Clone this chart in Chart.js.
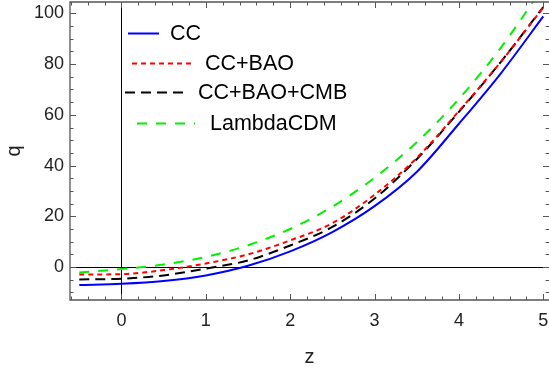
<!DOCTYPE html>
<html>
<head>
<meta charset="utf-8">
<script src="https://cdn.jsdelivr.net/npm/chart.js@4.4.1/dist/chart.umd.min.js"></script>
<style>
  html, body { margin: 0; padding: 0; background: #fff; }
</style>
</head>
<body>
<canvas id="qz" width="549" height="369"></canvas>
<script>
// redshift samples and q(z) for each fit
const zValues = [-0.5, 0, 0.5, 1, 1.5, 2, 2.5, 3, 3.5, 4, 4.5, 5];
const qCC = [-7.1, -6.6, -5.5, -3.3, 0.5, 6.2, 13.8, 24.0, 37.5, 56.5, 76.5, 98.8];
const qCCBAO = [-2.95, -2.8, -1.2, 1.4, 5.0, 10.5, 17.3, 28.5, 43.0, 61.5, 81.0, 102.3];
const qCCBAOCMB = [-4.9, -4.6, -3.3, -0.6, 2.6, 8.5, 15.8, 27.0, 42.5, 61.2, 81.0, 102.5];
const qLCDM = [-2.2, -0.8, 1.0, 4.0, 8.6, 15.0, 23.8, 35.2, 49.2, 66.3, 86.6, 110.5];

const seriesNames = ['CC', 'CC+BAO', 'CC+BAO+CMB', 'LambdaCDM'];
const xTicks = [0, 1, 2, 3, 4, 5];
const yTicks = [0, 20, 40, 60, 80, 100];

const FONT = 'Liberation Sans, Arial, sans-serif';

const toPoints = (ys) => zValues.map((z, i) => ({ x: z, y: ys[i] }));

const styles = [
  { color: '#0000ff', dash: [] },
  { color: '#ff0000', dash: [5, 4] },
  { color: '#000000', dash: [10, 6] },
  { color: '#00f000', dash: [10, 9] }
];

const datasets = [qCC, qCCBAO, qCCBAOCMB, qLCDM].map((ys, i) => ({
  label: seriesNames[i],
  data: toPoints(ys),
  borderColor: styles[i].color,
  borderDash: styles[i].dash,
  borderWidth: 2,
  pointRadius: 0,
  fill: false,
  cubicInterpolationMode: 'monotone'
}));

// frame with inward ticks; the right edge sits on the canvas border so only its ticks show
const framePlugin = {
  id: 'frame',
  afterDatasetsDraw(chart) {
    const { ctx, chartArea: a, scales: { x, y } } = chart;
    ctx.save();
    ctx.strokeStyle = '#555';
    ctx.lineWidth = 1.3;
    ctx.beginPath();
    ctx.moveTo(a.right, a.top);
    ctx.lineTo(a.left, a.top);
    ctx.lineTo(a.left, a.bottom);
    ctx.lineTo(a.right, a.bottom);
    ctx.stroke();
    ctx.lineWidth = 1;
    ctx.beginPath();
    for (let i = -3; i <= 25; i++) {
      const px = Math.round(x.getPixelForValue(i / 5)) + 0.5;
      if (px < a.left || px > a.right) continue;
      const len = i % 5 === 0 ? 6 : 3.5;
      ctx.moveTo(px, a.bottom); ctx.lineTo(px, a.bottom - len);
      ctx.moveTo(px, a.top); ctx.lineTo(px, a.top + len);
    }
    for (let i = -2; i <= 20; i++) {
      const py = Math.round(y.getPixelForValue(i * 5)) + 0.5;
      if (py < a.top || py > a.bottom) continue;
      const len = i % 4 === 0 ? 6 : 3.5;
      ctx.moveTo(a.left, py); ctx.lineTo(a.left + len, py);
      ctx.moveTo(a.right, py); ctx.lineTo(a.right - len, py);
    }
    ctx.stroke();
    ctx.restore();
  }
};

// legend rows inside the plot
const legendRows = [
  { x1: 128, x2: 159, tx: 170, y: 33 },
  { x1: 132, x2: 192, tx: 205, y: 63 },
  { x1: 125, x2: 188, tx: 198, y: 92 },
  { x1: 137, x2: 195, tx: 210, y: 123 }
];

const legendPlugin = {
  id: 'insetLegend',
  afterDraw(chart) {
    const ctx = chart.ctx;
    ctx.save();
    chart.data.datasets.forEach((ds, i) => {
      const r = legendRows[i];
      ctx.strokeStyle = ds.borderColor;
      ctx.lineWidth = 2;
      ctx.setLineDash(ds.borderDash);
      ctx.beginPath();
      ctx.moveTo(r.x1, r.y + 0.5);
      ctx.lineTo(r.x2, r.y + 0.5);
      ctx.stroke();
      ctx.setLineDash([]);
      ctx.fillStyle = '#000';
      ctx.font = '21.5px ' + FONT;
      ctx.textBaseline = 'middle';
      ctx.textAlign = 'left';
      ctx.fillText(ds.label, r.tx, r.y + 1);
    });
    ctx.restore();
  }
};

const zeroLine = (c) => (c.tick && c.tick.value === 0 ? '#000' : 'rgba(0,0,0,0)');

// fixed axis boxes, no extra room reserved for edge labels
const fixBox = (size) => (s) => {
  if (s.isHorizontal()) s.height = size; else s.width = size;
  s.paddingLeft = s.paddingRight = s.paddingTop = s.paddingBottom = 0;
};

new Chart(document.getElementById('qz'), {
  type: 'line',
  data: { datasets },
  options: {
    responsive: false,
    animation: false,
    layout: { padding: { top: 2, right: 0, left: 0, bottom: 0 } },
    plugins: { legend: { display: false }, tooltip: { enabled: false } },
    scales: {
      x: {
        type: 'linear',
        min: -0.61,
        max: 5.068,
        afterBuildTicks: (s) => { s.ticks = xTicks.map(v => ({ value: v })); },
        afterFit: fixBox(69),
        grid: { color: zeroLine, lineWidth: 1, drawTicks: false },
        border: { display: false },
        ticks: {
          font: { family: FONT, size: 18 },
          color: '#222',
          padding: 10,
          maxRotation: 0,
          autoSkip: false
        },
        title: {
          display: true,
          text: 'z',
          font: { family: FONT, size: 20 },
          color: '#222',
          padding: 0
        }
      },
      y: {
        type: 'linear',
        min: -13.0,
        max: 104.5,
        afterBuildTicks: (s) => { s.ticks = yTicks.map(v => ({ value: v })); },
        afterFit: fixBox(70),
        grid: { color: zeroLine, lineWidth: 1, drawTicks: false },
        border: { display: false },
        ticks: {
          font: { family: FONT, size: 18 },
          color: '#222',
          padding: 6,
          autoSkip: false
        },
        title: {
          display: true,
          text: 'q',
          font: { family: FONT, size: 20 },
          color: '#222',
          padding: 2
        }
      }
    }
  },
  plugins: [framePlugin, legendPlugin]
});
</script>
</body>
</html>
